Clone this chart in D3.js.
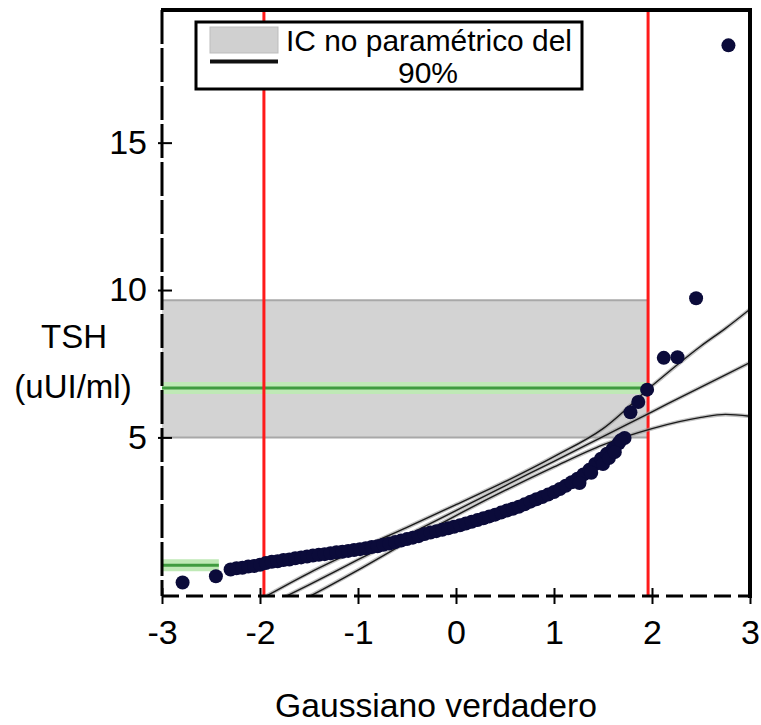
<!DOCTYPE html>
<html>
<head>
<meta charset="utf-8">
<script src="https://cdn.jsdelivr.net/npm/d3@7"></script>
<style>
  body { margin: 0; background: #fff; }
  svg { font-family: "Liberation Sans", Arial, sans-serif; }
</style>
</head>
<body>
<div id="chart"></div>
<script>
// Q-Q plot: theoretical normal quantile vs observed TSH
const qqZ = [-2.79, -2.45, -2.3, -2.24, -2.18, -2.12, -2.06, -2.0, -1.94, -1.88, -1.82, -1.76,
  -1.7, -1.64, -1.58, -1.52, -1.46, -1.4, -1.34, -1.28, -1.22, -1.16, -1.1, -1.04, -0.98,
  -0.92, -0.86, -0.8, -0.74, -0.68, -0.62, -0.56, -0.5, -0.44, -0.38, -0.32, -0.26, -0.2,
  -0.14, -0.08, -0.02, 0.04, 0.1, 0.16, 0.22, 0.28, 0.34, 0.4, 0.46, 0.52, 0.58, 0.64, 0.7,
  0.76, 0.82, 0.88, 0.94, 1.0, 1.06, 1.12, 1.18, 1.24, 1.3, 1.36, 1.42, 1.48, 1.54, 1.6,
  1.66, 1.72, 1.26, 1.38, 1.5, 1.56, 1.62, 1.68, 1.78, 1.86, 1.95, 2.12, 2.26, 2.45, 2.78];
const qqTSH = [0.08, 0.29, 0.52, 0.56, 0.58, 0.62, 0.64, 0.68, 0.74, 0.78, 0.8, 0.84,
  0.86, 0.9, 0.93, 0.96, 0.99, 1.02, 1.04, 1.07, 1.1, 1.12, 1.15, 1.18, 1.21,
  1.24, 1.28, 1.31, 1.36, 1.4, 1.45, 1.5, 1.55, 1.6, 1.65, 1.72, 1.77, 1.82,
  1.87, 1.92, 1.97, 2.02, 2.08, 2.14, 2.2, 2.26, 2.32, 2.38, 2.45, 2.52, 2.58, 2.65, 2.73,
  2.82, 2.9, 2.98, 3.06, 3.15, 3.25, 3.36, 3.48, 3.6, 3.74, 3.9, 4.1, 4.28, 4.45, 4.62,
  4.8, 4.98, 3.45, 3.8, 4.1, 4.3, 4.5, 4.9, 5.85, 6.2, 6.62, 7.7, 7.72, 9.72, 18.3];

// reference line and its confidence envelope
const lineZ = [-2, -1.5, -1, -0.5, 0, 0.5, 1, 1.5, 2, 2.5, 2.75, 3];
const upperBand = [-0.5, 0.4, 1.2, 1.95, 2.72, 3.5, 4.35, 5.3, 6.75, 8.1, 8.7, 9.35];
const midLine = [-0.83, 0.0, 0.85, 1.68, 2.52, 3.36, 4.19, 5.03, 5.87, 6.71, 7.12, 7.54];
const lowerBand = [-1.2, -0.4, 0.5, 1.45, 2.35, 3.2, 4.0, 4.75, 5.3, 5.68, 5.78, 5.72];

// non-parametric 90% CI of the upper reference limit, and limits at +-1.96
const ciLow = 5.0;
const ciHigh = 9.65;
const ciMid = 6.68;
const lowLimit = 0.66;
const zLimits = [-1.96, 1.96];

const xTicks = [-3, -2, -1, 0, 1, 2, 3];
const yTicks = [5, 10, 15];

const width = 761;
const height = 725;

const svg = d3.select("#chart")
  .append("svg")
  .attr("width", width)
  .attr("height", height);

const x = d3.scaleLinear().domain([-3, 3]).range([162, 750]);
const y = d3.scaleLinear().domain([-0.38, 19.5]).range([596, 10]);

svg.append("clipPath").attr("id", "plot-clip")
  .append("rect")
  .attr("x", x(-3)).attr("y", y(19.5))
  .attr("width", x(3) - x(-3)).attr("height", y(-0.38) - y(19.5));

const plot = svg.append("g").attr("clip-path", "url(#plot-clip)");

// grey CI band
plot.append("rect")
  .attr("x", x(-3))
  .attr("y", y(ciHigh))
  .attr("width", x(zLimits[1]) - x(-3))
  .attr("height", y(ciLow) - y(ciHigh))
  .attr("fill", "#d3d3d3");
[ciHigh, ciLow].forEach(v => {
  plot.append("line")
    .attr("x1", x(-3)).attr("x2", x(zLimits[1]))
    .attr("y1", y(v)).attr("y2", y(v))
    .attr("stroke", "#a8a8a8").attr("stroke-width", 2);
});

// green lines
function greenLine(v, z0, z1) {
  plot.append("line")
    .attr("x1", x(z0)).attr("x2", x(z1))
    .attr("y1", y(v)).attr("y2", y(v))
    .attr("stroke", "#bfe9b6").attr("stroke-width", 12);
  plot.append("line")
    .attr("x1", x(z0)).attr("x2", x(z1))
    .attr("y1", y(v)).attr("y2", y(v))
    .attr("stroke", "#3f9b3f").attr("stroke-width", 3);
}
greenLine(ciMid, -3, zLimits[1]);
greenLine(lowLimit, -3, -2.42);

// red vertical limits
zLimits.forEach(z => {
  plot.append("line")
    .attr("x1", x(z)).attr("x2", x(z))
    .attr("y1", y(19.5)).attr("y2", y(-0.38))
    .attr("stroke", "#ff1a1a").attr("stroke-width", 3);
});

// reference line + envelope
const curve = d3.line()
  .x((d, i) => x(lineZ[i]))
  .y(d => y(d))
  .curve(d3.curveMonotoneX);

[upperBand, midLine, lowerBand].forEach(vals => {
  plot.append("path")
    .attr("d", curve(vals))
    .attr("fill", "none")
    .attr("stroke", "#9a9a9a")
    .attr("stroke-opacity", 0.6)
    .attr("stroke-width", 4);
  plot.append("path")
    .attr("d", curve(vals))
    .attr("fill", "none")
    .attr("stroke", "#1a1a1a")
    .attr("stroke-width", 1.4);
});

// points
plot.selectAll("circle.pt")
  .data(qqZ)
  .enter()
  .append("circle")
  .attr("class", "pt")
  .attr("cx", d => x(d))
  .attr("cy", (d, i) => y(qqTSH[i]))
  .attr("r", 7)
  .attr("fill", "#0b0b3a");

// axes
const xAxis = svg.append("g")
  .attr("transform", `translate(0,${y(-0.38)})`)
  .call(d3.axisBottom(x).tickValues(xTicks).tickSize(8).tickPadding(16).tickFormat(d => String(d)));
xAxis.select(".domain").remove();
xAxis.selectAll(".tick line").attr("y1", -8).attr("y2", 8).attr("stroke", "#000").attr("stroke-width", 2);
xAxis.selectAll(".tick text").attr("font-size", 34).attr("fill", "#000")
  .attr("font-family", "Liberation Sans, Arial, sans-serif");

const yAxis = svg.append("g")
  .attr("transform", `translate(${x(-3)},0)`)
  .call(d3.axisLeft(y).tickValues(yTicks).tickSize(4).tickPadding(11).tickFormat(d => String(d)));
yAxis.select(".domain").remove();
yAxis.selectAll(".tick line").attr("x1", -4).attr("x2", 10).attr("stroke", "#000").attr("stroke-width", 2);
yAxis.selectAll(".tick text").attr("font-size", 34).attr("fill", "#000")
  .attr("font-family", "Liberation Sans, Arial, sans-serif");

// dashed left & bottom axis lines, solid top & right frame
svg.append("line")
  .attr("x1", x(-3)).attr("x2", x(3))
  .attr("y1", y(-0.38)).attr("y2", y(-0.38))
  .attr("stroke", "#000").attr("stroke-width", 3)
  .attr("stroke-dasharray", "17,7");
svg.append("line")
  .attr("x1", x(-3)).attr("x2", x(-3))
  .attr("y1", y(19.5)).attr("y2", y(-0.38))
  .attr("stroke", "#000").attr("stroke-width", 3)
  .attr("stroke-dasharray", "34,4");
svg.append("line")
  .attr("x1", x(-3) - 1).attr("x2", x(3) + 2)
  .attr("y1", y(19.5)).attr("y2", y(19.5))
  .attr("stroke", "#000").attr("stroke-width", 4);
svg.append("line")
  .attr("x1", x(3)).attr("x2", x(3))
  .attr("y1", y(19.5)).attr("y2", y(-0.38) + 2)
  .attr("stroke", "#000").attr("stroke-width", 4);

// legend
const legend = svg.append("g");
legend.append("rect")
  .attr("x", 196).attr("y", 22).attr("width", 386).attr("height", 67)
  .attr("fill", "#fff").attr("stroke", "#000").attr("stroke-width", 3);
legend.append("rect")
  .attr("x", 210).attr("y", 27).attr("width", 68).attr("height", 26)
  .attr("fill", "#d0d0d0").attr("stroke", "#bdbdbd").attr("stroke-width", 1);
legend.append("line")
  .attr("x1", 210).attr("x2", 278).attr("y1", 61.5).attr("y2", 61.5)
  .attr("stroke", "#111").attr("stroke-width", 4);
legend.append("text")
  .attr("x", 286).attr("y", 51)
  .attr("font-size", 30)
  .attr("textLength", 286).attr("lengthAdjust", "spacingAndGlyphs")
  .text("IC no paramétrico del");
legend.append("text")
  .attr("x", 428).attr("y", 83)
  .attr("text-anchor", "middle")
  .attr("font-size", 30)
  .text("90%");

// axis titles
svg.append("text")
  .attr("x", 436).attr("y", 717)
  .attr("text-anchor", "middle")
  .attr("font-size", 34)
  .attr("textLength", 322).attr("lengthAdjust", "spacingAndGlyphs")
  .text("Gaussiano verdadero");
svg.append("text")
  .attr("x", 74).attr("y", 348)
  .attr("text-anchor", "middle")
  .attr("font-size", 33)
  .text("TSH");
svg.append("text")
  .attr("x", 73).attr("y", 398)
  .attr("text-anchor", "middle")
  .attr("font-size", 33)
  .text("(uUI/ml)");
</script>
</body>
</html>
